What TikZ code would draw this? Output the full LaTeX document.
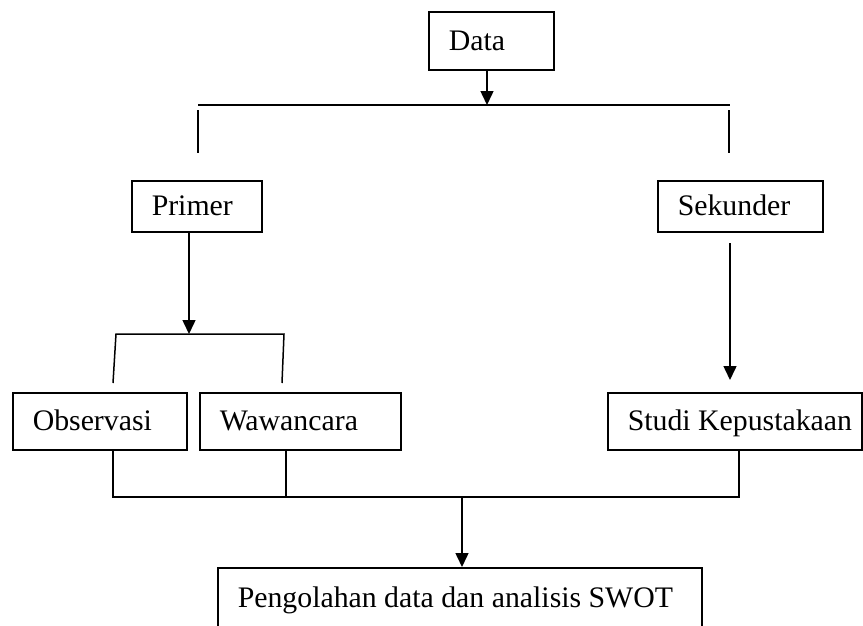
\documentclass[tikz,border=0pt]{standalone}
\usepackage{fontspec}
\setmainfont{Liberation Serif}
\usetikzlibrary{arrows.meta}
\tikzset{
  box/.style={draw, line width=1.5pt, anchor=north west, inner xsep=20pt, inner ysep=0pt,
    text height=19pt, text depth=0pt, font=\fontsize{29.8}{35}\selectfont},
  conn/.style={line width=1.5pt},
  arr/.style={line width=1.5pt, -{Triangle[width=13pt,length=14pt]}}
}
\begin{document}
\begin{tikzpicture}[x=1pt,y=-1pt]
\useasboundingbox (0,0) rectangle (863,625);
% boxes
\node[box, minimum height=58pt] (data) at (428,11) {\makebox[85pt][l]{Data}};
\node[box, minimum height=51pt] (primer) at (131,180) {\makebox[90pt][l]{Primer}};
\node[box, minimum height=51pt] (sekunder) at (657,180) {\makebox[125pt][l]{Sekunder}};
\node[box, minimum height=57pt] (obs) at (12,392) {\makebox[134pt][l]{Observasi}};
\node[box, minimum height=57pt] (waw) at (199,392) {\makebox[161pt][l]{Wawancara}};
\node[box, minimum height=57pt] (studi) at (607,392) {\makebox[214pt][l]{Studi Kepustakaan}};
\node[box, minimum height=60pt] (peng) at (217,567) {\makebox[444pt][l]{Pengolahan data dan analisis SWOT}};
% coordinates
\coordinate (dj) at (487,105);
\coordinate (tl) at (198,105);
\coordinate (tr) at (730,105);
\coordinate (tlb) at (198,110);
\coordinate (tle) at (198,153);
\coordinate (trb) at (729,110);
\coordinate (tre) at (729,153);
\coordinate (pj) at (189,334);
\coordinate (pl) at (116,334);
\coordinate (pr) at (284,334);
\coordinate (ple) at (113,383);
\coordinate (pre) at (282,383);
\coordinate (sj) at (730,243);
\coordinate (se) at (730,380);
\coordinate (mL) at (113,497);
\coordinate (mW) at (286,497);
\coordinate (mR) at (739,497);
\coordinate (mj) at (462,497);
% connectors
\draw[arr] (data.south -| dj) -- (dj);
\draw[conn] (tl) -- (tr);
\draw[conn] (tlb) -- (tle);
\draw[conn] (trb) -- (tre);
\draw[arr] (primer.south -| pj) -- (pj);
\draw[conn] (ple) -- (pl) -- (pr) -- (pre);
\draw[arr] (sj) -- (se);
\draw[conn] (obs.south -| mL) -- (mL) -- (mR) -- (studi.south -| mR);
\draw[conn] (waw.south -| mW) -- (mW);
\draw[arr] (mj) -- (peng.north -| mj);
\end{tikzpicture}
\end{document}
